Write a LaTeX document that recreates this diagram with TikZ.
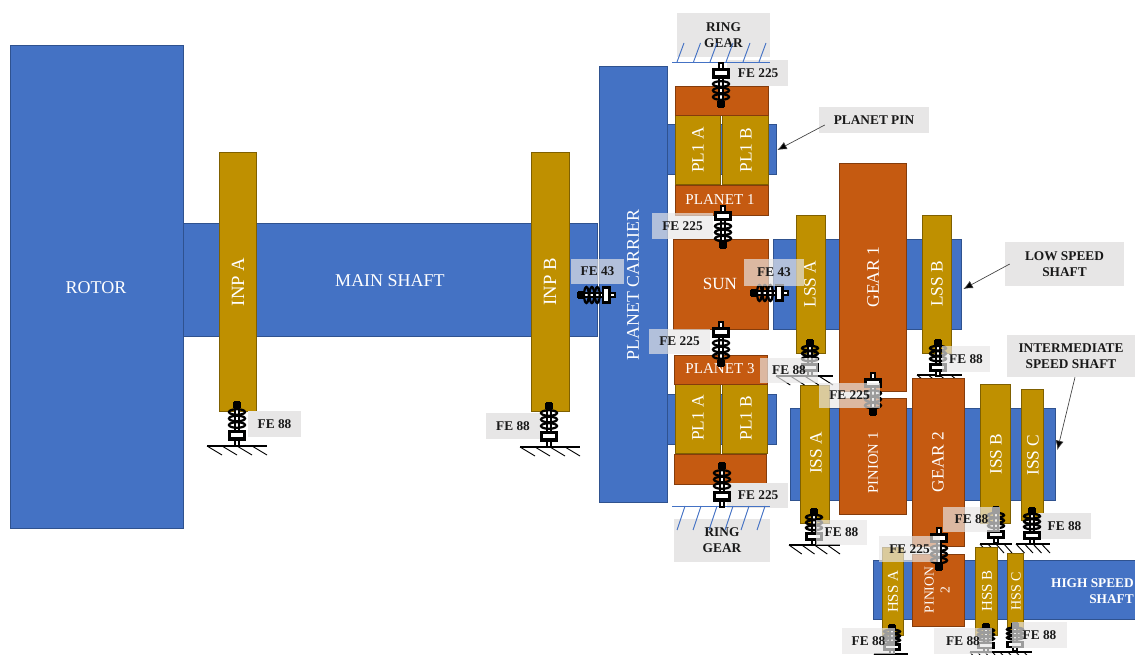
\documentclass[tikz,border=0pt]{standalone}
\usepackage{fontspec}
\usetikzlibrary{arrows.meta}
\setmainfont{Liberation Serif}
\definecolor{bluef}{HTML}{4472C4}\definecolor{blued}{HTML}{2F528F}
\definecolor{goldf}{HTML}{BF9000}\definecolor{goldd}{HTML}{7F6000}
\definecolor{orf}{HTML}{C55A11}\definecolor{ord}{HTML}{843C0C}
\definecolor{lab}{HTML}{E7E6E6}
\tikzset{
 x=.75pt,y=-.75pt,
 bluebox/.style={fill=bluef,draw=blued,line width=.6pt},
 goldbox/.style={fill=goldf,draw=goldd,line width=.6pt},
 orbox/.style={fill=orf,draw=ord,line width=.6pt},
 wt/.style={text=white,inner sep=0pt,align=center},
 lb/.style={fill=lab,inner sep=0pt,font=\fontsize{10}{12}\selectfont\bfseries,align=center,text=black!90},
 ov/.style={lb,fill opacity=.68,text opacity=1},
 arr/.style={-{Latex[length=7pt,width=6pt,fill=black]},draw=black!75,line width=.5pt},
 hatchb/.style={draw=bluef,line width=.7pt},
 hatchk/.style={draw=black,line width=.7pt},
 pics/brg/.style={code={
  \draw[line width=1.2pt,fill=white] (-2.2,0) rectangle (2.2,44);
  \draw[line width=1.4pt,fill=black] (-3,1) rectangle (3,5);
  \foreach \t in {10,16.5,23}{\draw[line width=1.7pt] (0,\t) ellipse[x radius=8,y radius=2.8];}
  \draw[line width=1.6pt,fill=white] (-7.5,29.5) rectangle (7.5,37.5);
  \fill[black] (-7.5,29.5) rectangle (7.5,31.5);\fill[black] (-7.5,35.5) rectangle (7.5,37.5);
 }},
}
\newcommand{\rbox}[6]{%
 \pgfmathsetmacro\bw{(#5-#3)*.75}\pgfmathsetmacro\bh{(#6-#4)*.75}%
 \node[#2,minimum width=\bw pt,minimum height=\bh pt,inner sep=0pt] (#1) at ({(#3+#5)/2},{(#4+#6)/2}) {};}
\newcommand{\lbox}[7]{%
 \pgfmathsetmacro\bw{(#5-#3)*.75}\pgfmathsetmacro\bh{(#6-#4)*.75}%
 \node[#2,minimum width=\bw pt,minimum height=\bh pt] (#1) at ({(#3+#5)/2},{(#4+#6)/2}) {#7};}
\newcommand{\wl}[5]{\node[wt,font=\fontsize{#4}{#4}\selectfont,rotate=#3] at (#1,#2) {#5};}
\newcommand{\gnd}[3]{%
 \draw[hatchk,line width=.9pt] (#1,#3) -- (#2,#3);
 \foreach \i in {0,1,2,3}{\draw[hatchk] ({#1+\i*(#2-#1)/4},#3) -- ({#1+(\i+1)*(#2-#1)/4},#3+9);}}
\begin{document}
\begin{tikzpicture}
\useasboundingbox (0,0) rectangle (1135,655);
% blue bodies
\rbox{rotor}{bluebox}{10}{45}{183}{528}
\rbox{mainshaft}{bluebox}{183}{223}{597}{336}
\rbox{carrier}{bluebox}{599}{66}{667}{502}
\rbox{pintop}{bluebox}{667}{124}{776}{174}
\rbox{pinbot}{bluebox}{667}{394}{776}{444}
\rbox{lss}{bluebox}{773}{239}{961}{329}
\rbox{iss}{bluebox}{790}{408}{1055}{500}
\rbox{hss}{bluebox}{873}{560}{1136}{619}
% grounds partly hidden by the wheels below them
\gnd{917}{962}{375}
\gnd{980}{1012}{544}
\gnd{1016}{1050}{544}
% gold
\rbox{inpa}{goldbox}{219}{152}{256}{411}
\rbox{inpb}{goldbox}{531}{152}{569}{411}
\rbox{plta}{goldbox}{675}{115}{720.5}{184}
\rbox{pltb}{goldbox}{722.5}{115}{768}{184}
\rbox{plba}{goldbox}{675}{384}{720}{453}
\rbox{plbb}{goldbox}{722}{384}{767}{453}
\rbox{lssa}{goldbox}{796}{215}{825}{353}
\rbox{lssb}{goldbox}{922}{215}{951}{353}
\rbox{issa}{goldbox}{800}{385}{829}{523}
\rbox{issb}{goldbox}{980}{384}{1010}{523}
\rbox{issc}{goldbox}{1021}{389}{1043}{520}
\rbox{hssa}{goldbox}{882}{547}{903}{635}
\rbox{hssb}{goldbox}{975}{547}{997}{635}
\rbox{hssc}{goldbox}{1007}{553}{1023}{630}
% orange
\rbox{ptop}{orbox}{675}{86}{768}{115}
\rbox{planeta}{orbox}{675}{185}{768}{215}
\rbox{sun}{orbox}{673}{239}{768}{329}
\rbox{planetc}{orbox}{674}{355}{767}{384}
\rbox{pbot}{orbox}{674}{454}{766}{484}
\rbox{gearone}{orbox}{839}{163}{906}{391}
\rbox{pinionone}{orbox}{839}{398}{906}{514}
\rbox{geartwo}{orbox}{912}{378}{964}{546}
\rbox{piniontwo}{orbox}{912}{554}{964}{626}
% white text
\wl{96}{288}{0}{13.5}{ROTOR}
\wl{390}{281}{0}{13.5}{MAIN SHAFT}
\wl{238}{282}{90}{14}{INP A}
\wl{550}{282}{90}{14}{INP B}
\wl{633}{285}{90}{13.4}{PLANET CARRIER}
\wl{698}{150}{90}{13}{PL1 A}
\wl{746}{150}{90}{13}{PL1 B}
\wl{698}{418}{90}{13}{PL1 A}
\wl{746}{418}{90}{13}{PL1 B}
\wl{720}{200}{0}{11.3}{PLANET 1}
\wl{720}{369}{0}{11.3}{PLANET 3}
\wl{720}{284}{0}{12.8}{SUN}
\wl{810}{284}{90}{13}{LSS A}
\wl{937}{284}{90}{13}{LSS B}
\wl{873}{277}{90}{13.2}{GEAR 1}
\wl{816}{453}{90}{13}{ISS A}
\wl{873}{463}{90}{11}{PINION 1}
\wl{938}{462}{90}{13}{GEAR 2}
\wl{996}{454}{90}{13}{ISS B}
\wl{1033}{455}{90}{13}{ISS C}
\wl{893}{592}{90}{11.2}{HSS A}
\wl{987}{591}{90}{11.2}{HSS B}
\wl{1016}{591}{90}{10.5}{HSS C}
\node[wt,font=\fontsize{10.2}{12}\selectfont,rotate=90] at (937,590) {PINION\\2};
\node[wt,font=\fontsize{10}{12}\selectfont\bfseries,align=right,anchor=east] at (1134,591) {HIGH SPEED\\SHAFT};
% labels beneath the bearings
\lbox{ringtop}{lb}{677}{13}{770}{57}{RING\\GEAR}
\lbox{ringbot}{lb}{674}{519}{770}{562}{RING\\GEAR}
\lbox{fetop}{lb}{727}{60}{788}{86}{\hspace*{1pt}FE 225}
\lbox{fea}{ov}{652}{213}{713}{239}{FE 225}
\lbox{feb}{ov}{649}{329}{710}{354}{FE 225}
\lbox{fec}{ov}{571}{259}{624}{284}{FE 43}
\lbox{febot}{lb}{727}{483}{788}{508}{\hspace*{1pt}FE 225}
\lbox{feinpa}{lb}{248}{411}{301}{437}{FE 88}
\lbox{feinpb}{lb}{486}{413}{540}{439}{FE 88}
\lbox{feissc}{lb}{1038}{513}{1091}{539}{FE 88}
% ring gear grounds
\draw[hatchb] (672,62) -- (770,62);
\foreach \h in {677,693.5,710,726,743,759}{\draw[hatchb] (\h,62) -- (\h+7,43);}
\draw[hatchb] (672,506) -- (770,506);
\foreach \h in {685,701,717,733,749,765}{\draw[hatchb] (\h,506) -- (\h-8,530);}
% grounds
\gnd{207}{267}{446}
\gnd{520}{580}{447}
\gnd{776}{833}{376}
\gnd{789}{840}{545}
\gnd{874}{908}{654}
\gnd{970}{1000}{652}
\gnd{1000}{1032}{652}
% bearings
\pic at (237,402) {brg};
\pic at (549,403) {brg};
\pic[yscale=-1] at (721,107) {brg};
\pic[yscale=-.95] at (723,248) {brg};
\pic[yscale=-1] at (721,366) {brg};
\pic at (722,463) {brg};
\pic[rotate=90,yscale=.84] at (578,295) {brg};
\pic[rotate=90,yscale=.84] at (751,293) {brg};
\pic[yscale=.82] at (810,340) {brg};
\pic[yscale=.82] at (938,340) {brg};
\pic[yscale=-.95] at (873,415) {brg};
\pic[yscale=.82] at (814,509) {brg};
\pic[yscale=.82] at (996,507) {brg};
\pic[yscale=.82] at (1032,508) {brg};
\pic[yscale=-.95] at (939,570) {brg};
\pic[yscale=.66] at (892,625) {brg};
\pic[yscale=.64] at (986,624) {brg};
\pic[yscale=.64] at (1015,623) {brg};
% labels above the bearings
\lbox{fed}{ov}{744}{259}{804}{286}{FE 43}
\lbox{felssa}{ov}{760}{358}{818}{383}{FE 88}
\lbox{fepone}{ov}{819}{383}{880}{408}{FE 225}
\lbox{felssb}{ov}{942}{346}{990}{372}{FE 88}
\lbox{feissa}{ov}{816}{520}{867}{545}{FE 88}
\lbox{feissb}{ov}{943}{507}{1000}{532}{FE 88}
\lbox{feptwo}{ov}{879}{536}{940}{562}{FE 225}
\lbox{fehssa}{ov}{842}{628}{895}{654}{FE 88}
\lbox{fehssb}{ov}{934}{628}{992}{654}{FE 88}
\lbox{fehssc}{ov}{1012}{622}{1067}{648}{FE 88}
% callouts
\lbox{planetpin}{lb}{819}{107}{929}{133}{PLANET PIN}
\lbox{lowspeed}{lb}{1005}{242}{1124}{286}{LOW SPEED\\SHAFT}
\lbox{interm}{lb}{1007}{335}{1135}{377}{INTERMEDIATE\\SPEED SHAFT}
\draw[arr] ([shift={(6,5)}]planetpin.west) -- ([shift={(1,1)}]pintop.east);
\draw[arr] ([shift={(5,0)}]lowspeed.west) -- ([shift={(2,5)}]lss.east);
\draw[arr] ([shift={(4,0)}]interm.south) -- ([shift={(2,-4)}]iss.east);
\end{tikzpicture}
\end{document}
